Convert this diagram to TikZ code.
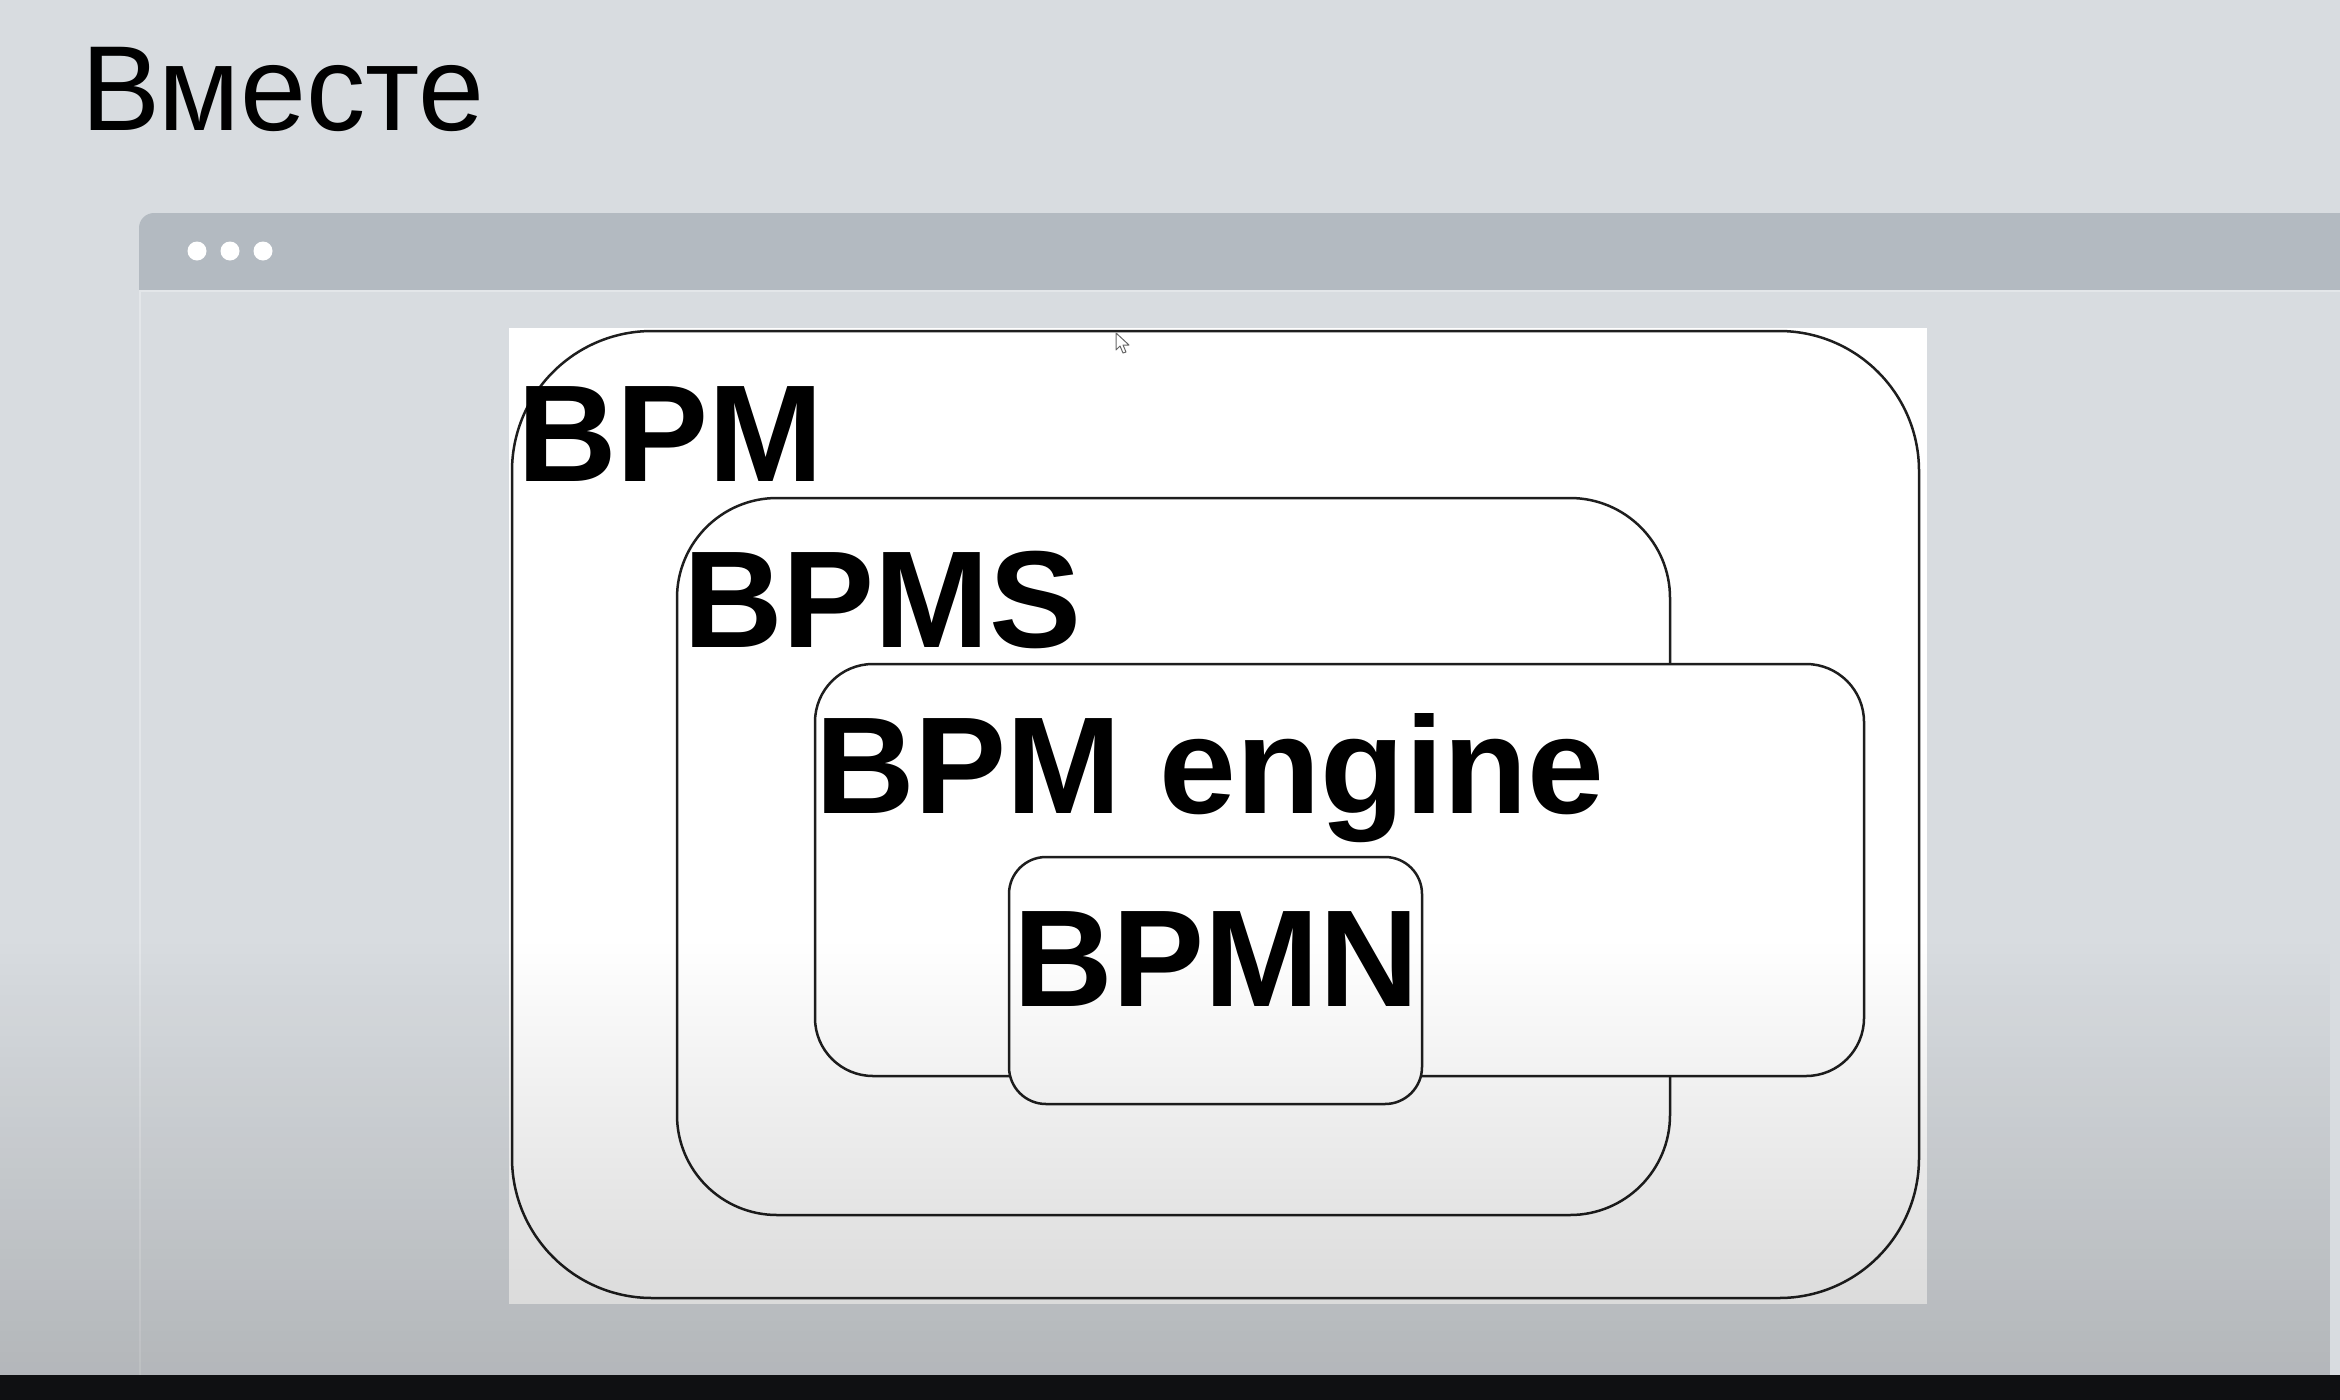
\documentclass[tikz,border=0pt]{standalone}
\usepackage{fontspec}
\setmainfont{Liberation Sans}
\usetikzlibrary{fadings}
\definecolor{bgc}{HTML}{D8DCE0}
\definecolor{headc}{HTML}{B3BAC1}
\definecolor{edgec}{HTML}{E3E6E9}
\definecolor{linec}{HTML}{1E1E1E}
\definecolor{barc}{HTML}{0F1012}
\tikzfading[name=myfade, top color=transparent!100, bottom color=transparent!0]
\tikzset{
  boxshape/.style={draw=linec, fill=white, line width=2.5pt, rectangle, inner sep=0pt, outer sep=0pt},
  bigtext/.style={anchor=base west, inner sep=0pt, outer sep=0pt, font=\fontsize{138}{138}\selectfont\bfseries},
  titletext/.style={anchor=base west, inner sep=0pt, outer sep=0pt, xscale=0.98, font=\fontsize{121}{121}\selectfont},
}
\begin{document}
\begin{tikzpicture}[x=1pt,y=-1pt]
\useasboundingbox (0,0) rectangle (2340,1400);
\fill[bgc] (0,0) rectangle (2340,1400);
% title
\node[titletext] (title) at (81,130) {Вместе};
% window
\fill[headc, rounded corners=15pt] (139,213) rectangle (2380,290);
\fill[headc] (139,260) rectangle (175,290);
\draw[edgec, line width=1.5pt] (140,290) -- (140,1375);
\draw[edgec, line width=1.5pt] (140,291) -- (2340,291);
\fill[white] (197,251) circle[radius=9.5pt];
\fill[white] (230,251) circle[radius=9.5pt];
\fill[white] (263,251) circle[radius=9.5pt];
% canvas
\fill[white] (509,328) rectangle (1927,1304);
% nested boxes
\node[boxshape, rounded corners=140pt, minimum width=1407pt, minimum height=967pt] (bpm) at (1215.5,814.5) {};
\node[boxshape, rounded corners=100pt, minimum width=993pt, minimum height=717pt] (bpms) at (1173.5,856.5) {};
\node[boxshape, rounded corners=58pt, minimum width=1049pt, minimum height=412pt] (engine) at (1339.5,870) {};
\node[boxshape, rounded corners=37pt, minimum width=413pt, minimum height=247pt] (bpmn) at (1215.5,980.5) {};
% labels
\node[bigtext] (tbpm) at (517,481) {BPM};
\node[bigtext] (tbpms) at (683,647) {BPMS};
\node[bigtext] (tengine) at (815,813) {BPM engine};
\node[bigtext] (tbpmn) at (1013,1006) {BPMN};
% cursor
\draw[gray!80!black, fill=white, line width=1pt, line join=round]
  (1116,333) -- (1116,350) -- (1120,346) -- (1123,353) -- (1126,352) -- (1123,345) -- (1129,345) -- cycle;
% bottom darkening
\fill[black, fill opacity=0.17, path fading=myfade] (0,940) rectangle (2340,1375);
% bottom bar
\fill[barc] (0,1375) rectangle (2340,1400);
\end{tikzpicture}
\end{document}
